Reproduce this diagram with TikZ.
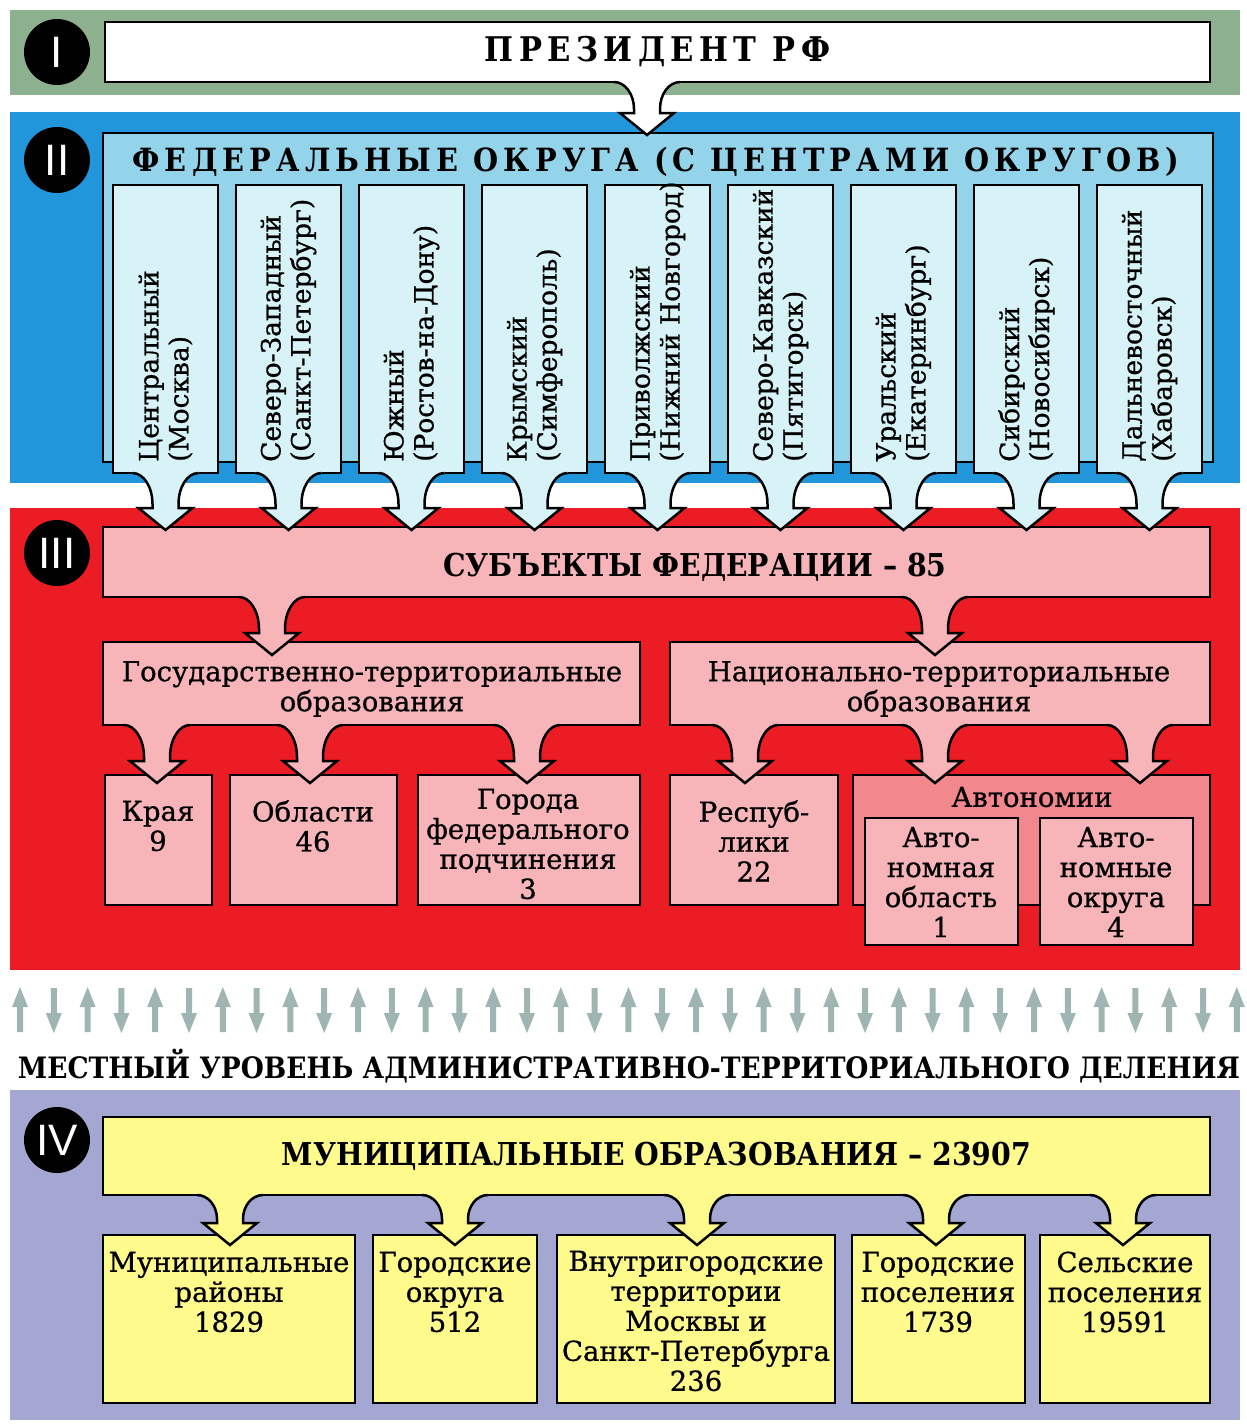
\documentclass[tikz,border=0pt]{standalone}
\usepackage{fontspec}
\usepackage{graphicx}
\setmainfont{DejaVu Serif}[FakeBold=0.8]
\newfontfamily\condfont{DejaVu Serif Condensed}
\newfontfamily\spacedfont[LetterSpace=16]{DejaVu Serif Condensed}
\newfontfamily\numfont{Liberation Sans}
\usetikzlibrary{positioning,calc}
\definecolor{bandgreen}{HTML}{8DB08E}
\definecolor{bandblue}{HTML}{2196DB}
\definecolor{bandred}{HTML}{EC1C24}
\definecolor{bandlilac}{HTML}{A3A7D2}
\definecolor{fobox}{HTML}{94D4EA}
\definecolor{colbox}{HTML}{D8F3F8}
\definecolor{pinkbox}{HTML}{F8B5B9}
\definecolor{autbox}{HTML}{F2878E}
\definecolor{yelbox}{HTML}{FFFA8C}
\definecolor{arrgray}{HTML}{9EB5B1}

\tikzset{
  blk/.style={draw=black,line width=2.5pt,anchor=north west,inner sep=0pt,outer sep=0pt},
  txt/.style={align=center,inner sep=0pt,font=\fontsize{27.5}{30}\selectfont},
  coltxt/.style={rotate=90,anchor=west,align=left,inner sep=0pt,font=\fontsize{26.5}{30}\selectfont},
  head/.style={inner sep=0pt,font=\condfont\bfseries\fontsize{31.5}{36}\selectfont},
  spaced/.style={inner sep=0pt,font=\spacedfont\bfseries\fontsize{32}{36}\selectfont},
  outl/.style={draw=black,line width=2.5pt},
  numcirc/.style={circle,fill=black,minimum size=66pt,inner sep=0pt,text=white,
    font=\numfont\fontsize{44}{44}\selectfont}
}

% block arrow hanging from a box: #1 base anchor, #2 x, #3 target node, #4 dip, #5 fill
\newcommand{\bendarrow}[5]{%
  \fill[#5] let \p1=(#1), \p2=(#3.north), \p3=(#2,0),
      \p4=(0pt,{\y2-#4pt+22pt}), \p5=(0pt,{\y1-(\y2)+#4pt-26pt}) in
    (\x3-33pt,\y1+3pt) -- (\x3-33pt,\y1)
    arc[start angle=90,end angle=0,x radius=20pt,y radius=\y5]
    -- (\x3-13pt,\y4) -- (\x3-27pt,\y4) -- (\x3,{\y2-#4pt})
    -- (\x3+27pt,\y4) -- (\x3+13pt,\y4) -- (\x3+13pt,{\y1-\y5})
    arc[start angle=180,end angle=90,x radius=20pt,y radius=\y5]
    -- (\x3+33pt,\y1+3pt) -- cycle;
  \draw[outl] let \p1=(#1), \p2=(#3.north), \p3=(#2,0),
      \p4=(0pt,{\y2-#4pt+22pt}), \p5=(0pt,{\y1-(\y2)+#4pt-26pt}) in
    (\x3-33pt,\y1)
    arc[start angle=90,end angle=0,x radius=20pt,y radius=\y5]
    -- (\x3-13pt,\y4) -- (\x3-27pt,\y4) -- (\x3,{\y2-#4pt})
    -- (\x3+27pt,\y4) -- (\x3+13pt,\y4) -- (\x3+13pt,{\y1-\y5})
    arc[start angle=180,end angle=90,x radius=20pt,y radius=\y5];
}

\begin{document}
\begin{tikzpicture}[x=1pt,y=-1pt]
\useasboundingbox (0,0) rectangle (1247,1428);

% coloured bands
\fill[bandgreen] (10,10) rectangle (1240,95);
\fill[bandblue] (10,112) rectangle (1240,483);
\fill[bandred] (10,508) rectangle (1240,970);
\fill[bandlilac] (10,1090) rectangle (1240,1420);

\node[numcirc] (n1) at (57,52) {I};
\node[numcirc] (n2) at (57,160) {II};
\node[numcirc] (n3) at (57,553) {III};
\node[numcirc] (n4) at (57,1140) {IV};

% level I
\node[blk,fill=white,minimum width=1105pt,minimum height=60pt,spaced,inner sep=0pt,
  font=\spacedfont\bfseries\fontsize{34}{36}\selectfont] (pres) at (105,22) {ПРЕЗИДЕНТ РФ};

% level II
\node[blk,fill=fobox,minimum width=1110pt,minimum height=329pt] (fo) at (103,133) {};
\node[spaced] (fo-t) at (656,162) {ФЕДЕРАЛЬНЫЕ ОКРУГА (С ЦЕНТРАМИ ОКРУГОВ)};
\foreach \i/\okr/\city in {1/Центральный/(Москва), 2/Северо-Западный/(Санкт-Петербург),
    3/Южный/(Ростов-на-Дону), 4/Крымский/(Симферополь), 5/Приволжский/(Нижний Новгород),
    6/Северо-Кавказский/(Пятигорск), 7/Уральский/(Екатеринбург),
    8/Сибирский/(Новосибирск), 9/Дальневосточный/(Хабаровск)}{
  \pgfmathsetmacro\cx{165.5+123*(\i-1)}
  \node[blk,fill=colbox,minimum width=105pt,minimum height=288pt] (c\i) at (\cx-52.5,185) {};
  \node[coltxt] (t\i) at (\cx,462) {\okr\\\city};
}

% level III
\node[blk,fill=pinkbox,minimum width=1107pt,minimum height=70pt] (subj) at (103,527) {};
\node[head] (subj-t) at (695,567) {СУБЪЕКТЫ ФЕДЕРАЦИИ – 85};
\node[blk,fill=pinkbox,minimum width=537pt,minimum height=83pt] (gos) at (103,642) {};
\node[blk,fill=pinkbox,minimum width=540pt,minimum height=83pt] (nac) at (670,642) {};
\node[txt] (gos-t) at (372,689) {Государственно-территориальные\\образования};
\node[txt] (nac-t) at (939,689) {Национально-территориальные\\образования};
\node[blk,fill=pinkbox,minimum width=107pt,minimum height=130pt] (kraya) at (105,775) {};
\node[blk,fill=pinkbox,minimum width=167pt,minimum height=130pt] (obl) at (230,775) {};
\node[blk,fill=pinkbox,minimum width=222pt,minimum height=130pt] (gor) at (418,775) {};
\node[blk,fill=pinkbox,minimum width=168pt,minimum height=130pt] (resp) at (670,775) {};
\node[blk,fill=autbox,minimum width=357pt,minimum height=130pt] (avt) at (853,775) {};
\node[blk,fill=pinkbox,minimum width=153pt,minimum height=127pt] (avtobl) at (865,818) {};
\node[blk,fill=pinkbox,minimum width=153pt,minimum height=127pt] (avtokr) at (1040,818) {};
\node[txt] (kraya-t) at (158,826) {Края\\9};
\node[txt] (obl-t) at (313,826) {Области\\46};
\node[txt] (gor-t) at (528,844) {Города\\федерального\\подчинения\\3};
\node[txt] (resp-t) at (754,841) {Респуб-\\лики\\22};
\node[txt] (avt-t) at (1032,797) {Автономии};
\node[txt] (avtobl-t) at (941,882) {Авто-\\номная\\область\\1};
\node[txt] (avtokr-t) at (1116,882) {Авто-\\номные\\округа\\4};

% two-way arrows
\foreach \k in {0,...,36}{
  \pgfmathsetmacro\ax{20+33.8*\k}
  \pgfmathtruncatemacro\dir{1-2*mod(\k,2)}
  \fill[arrgray] (\ax-3,1010+22*\dir) -- (\ax-3,1010-3*\dir) -- (\ax-8,1010-3*\dir)
    -- (\ax,1010-23*\dir) -- (\ax+8,1010-3*\dir) -- (\ax+3,1010-3*\dir)
    -- (\ax+3,1010+22*\dir) -- cycle;
}
\node[inner sep=0pt] (local) at (629,1066)
  {\resizebox{1222pt}{!}{\condfont\bfseries\fontsize{34}{36}\selectfont МЕСТНЫЙ УРОВЕНЬ АДМИНИСТРАТИВНО-ТЕРРИТОРИАЛЬНОГО ДЕЛЕНИЯ}};

% level IV
\node[blk,fill=yelbox,minimum width=1107pt,minimum height=78pt,head] (mun) at (103,1117)
  {МУНИЦИПАЛЬНЫЕ ОБРАЗОВАНИЯ – 23907};
\node[blk,fill=yelbox,minimum width=252pt,minimum height=168pt] (mr) at (103,1235) {};
\node[blk,fill=yelbox,minimum width=164pt,minimum height=168pt] (go) at (373,1235) {};
\node[blk,fill=yelbox,minimum width=278pt,minimum height=168pt] (vt) at (557,1235) {};
\node[blk,fill=yelbox,minimum width=173pt,minimum height=168pt] (gp) at (852,1235) {};
\node[blk,fill=yelbox,minimum width=170pt,minimum height=168pt] (sp) at (1040,1235) {};
\node[txt] (mr-t) at (229,1292) {Муниципальные\\районы\\1829};
\node[txt] (go-t) at (455,1292) {Городские\\округа\\512};
\node[txt] (vt-t) at (696,1321) {Внутригородские\\территории\\Москвы и\\Санкт-Петербурга\\236};
\node[txt] (gp-t) at (938,1292) {Городские\\поселения\\1739};
\node[txt] (sp-t) at (1125,1292) {Сельские\\поселения\\19591};

% block arrows
\bendarrow{pres.south}{647}{fo}{2}{white}
\foreach \i in {1,...,9}{
  \pgfmathsetmacro\cx{165.5+123*(\i-1)}
  \bendarrow{c\i.south}{\cx}{subj}{3}{colbox}
}
\bendarrow{subj.south}{272}{gos}{13}{pinkbox}
\bendarrow{subj.south}{935}{nac}{13}{pinkbox}
\bendarrow{gos.south}{157}{kraya}{8}{pinkbox}
\bendarrow{gos.south}{310}{obl}{8}{pinkbox}
\bendarrow{gos.south}{527}{gor}{8}{pinkbox}
\bendarrow{nac.south}{745}{resp}{8}{pinkbox}
\bendarrow{nac.south}{935}{avt}{8}{pinkbox}
\bendarrow{nac.south}{1140}{avt}{8}{pinkbox}
\bendarrow{mun.south}{230}{mr}{10}{yelbox}
\bendarrow{mun.south}{455}{go}{10}{yelbox}
\bendarrow{mun.south}{697}{vt}{10}{yelbox}
\bendarrow{mun.south}{936}{gp}{10}{yelbox}
\bendarrow{mun.south}{1123}{sp}{10}{yelbox}
\end{tikzpicture}
\end{document}
